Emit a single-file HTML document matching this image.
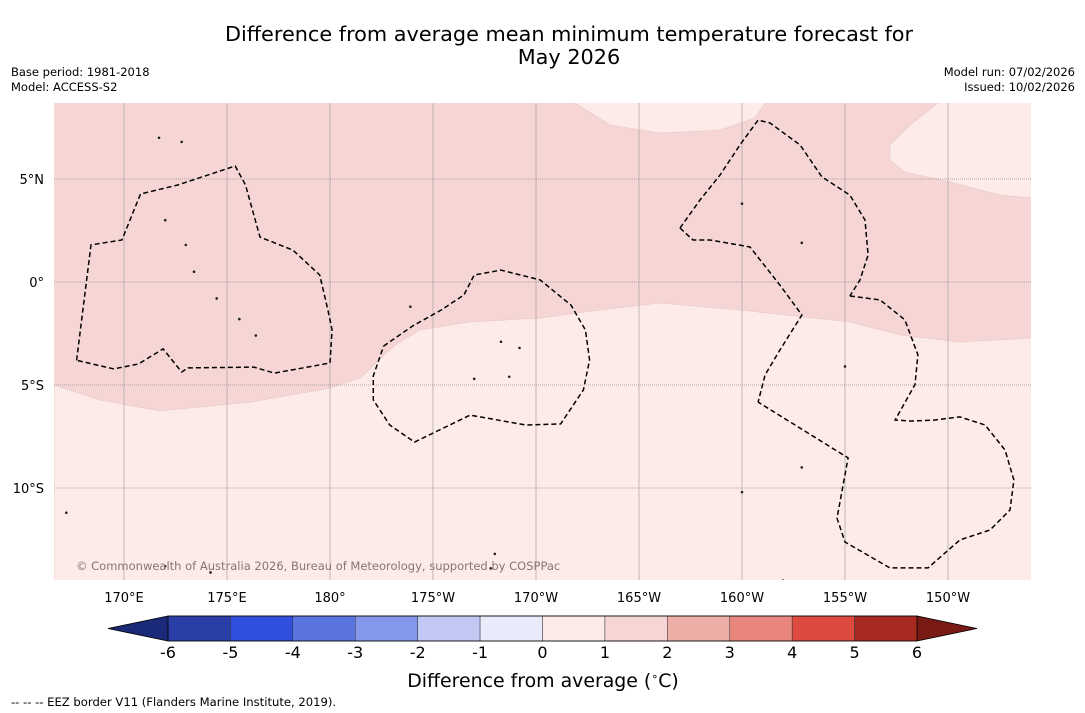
<!DOCTYPE html>
<html><head><meta charset="utf-8"><style>
body{margin:0;background:#fff;font-family:"Liberation Sans","DejaVu Sans",sans-serif}
svg{display:block}
</style></head><body>
<svg id="c" width="1085" height="713" viewBox="0 0 1085 713" font-family="'DejaVu Sans','Liberation Sans',sans-serif">
<rect width="1085" height="713" fill="#fff"/>
<text x="569" y="41" text-anchor="middle" font-size="20.8" fill="#000">Difference from average mean minimum temperature forecast for</text>
<text x="569" y="64" text-anchor="middle" font-size="20.8" fill="#000">May 2026</text>
<text x="11" y="76" font-size="11.5">Base period: 1981-2018</text>
<text x="11" y="91" font-size="11.5">Model: ACCESS-S2</text>
<text x="1075" y="76" font-size="11.5" text-anchor="end">Model run: 07/02/2026</text>
<text x="1075" y="91" font-size="11.5" text-anchor="end">Issued: 10/02/2026</text>
<g id="map"></g>
<g id="axes"></g>
<g id="cbar"></g>
<text x="543" y="687" text-anchor="middle" font-size="18.9">Difference from average (<tspan font-size="11" dy="-7">∘</tspan><tspan dy="7">C)</tspan></text>
<text x="11" y="706" font-size="11.6">--  --  -- EEZ border V11 (Flanders Marine Institute, 2019).</text>
</svg>
<script>
const NS="http://www.w3.org/2000/svg";
const levels=[-6,-5,-4,-3,-2,-1,0,1,2,3,4,5,6];
const levelColors=["#2a3ea8","#2f4fdc","#5a74e0","#8497ea","#c0c8f3","#e8ebfa","#fcebe8","#f5d6d5","#eeaea8","#e8867d","#dc4a40","#a82a22"];
const lowTipColor="#1b2a78", highTipColor="#7a1a14";
const lonTicks=[170,175,180,185,190,195,200,205,210];
const lonLabels=["170°E","175°E","180°","175°W","170°W","165°W","160°W","155°W","150°W"];
const latTicks=[5,0,-5,-10];
const latLabels=["5°N","0°","5°S","10°S"];
// contours [lon(0-360), lat]
const contourMain=[[166.6,-5],[168.83,-5.73],[171.75,-6.26],[176.12,-5.83],[180,-5.15],[181.46,-4.66],[183.16,-3.06],[184.37,-2.33],[186.8,-1.94],[190.19,-1.75],[193.11,-1.36],[195.99,-1.02],[199.87,-1.36],[205.24,-1.94],[207.67,-2.57],[210.58,-2.91],[214.03,-2.72],[215,-2.72]];
const contourTop=[[191.89,8.69],[193.59,7.62],[196.02,7.23],[198.93,7.38],[200.63,7.96],[201.12,8.69],[201.3,9],[191.5,9]];
const contourTopRight=[[209.51,8.69],[208.16,7.62],[207.18,6.65],[207.18,5.92],[207.91,5.34],[210.10,4.85],[212.52,4.22],[214.03,4.08],[215,4.08],[215,9],[209.5,9]];
const eezA=[[167.7,-3.80],[168.4,1.80],[169.9,2.04],[170.8,4.27],[172.6,4.71],[175.4,5.63],[175.9,4.71],[176.6,2.18],[178.2,1.55],[179.5,0.34],[179.9,-1.36],[180.1,-2.33],[180.0,-3.93],[177.3,-4.42],[176.3,-4.13],[173.1,-4.17],[172.8,-4.37],[171.9,-3.25],[170.7,-3.98],[169.5,-4.22],[167.7,-3.80]];
const eezB=[[182.6,-3.11],[184.0,-2.14],[185.4,-1.36],[186.5,-0.63],[187.0,0.34],[188.3,0.58],[190.2,0.10],[191.7,-1.12],[192.4,-2.33],[192.6,-3.79],[192.3,-5.24],[191.2,-6.89],[189.5,-6.94],[186.8,-6.46],[184.1,-7.77],[182.9,-6.94],[182.1,-5.73],[182.1,-4.56],[182.6,-3.11]];
const eezC=[[196.99,2.62],[197.96,3.98],[198.93,5.19],[199.90,6.65],[200.78,7.86],[201.36,7.72],[202.82,6.65],[203.88,5.10],[205.24,4.22],[205.97,3.01],[206.12,1.31],[205.73,0.10],[205.24,-0.68]];
const eezD=[[196.99,2.62],[197.62,2.04],[198.45,2.04],[200.39,1.70],[201.84,-0.15],[202.91,-1.60],[201.84,-3.30],[201.12,-4.51],[200.78,-5.83]];
const eezE=[[205.24,-0.68],[206.70,-0.87],[207.91,-1.84],[208.54,-3.54],[208.40,-4.98],[207.43,-6.70],[208.16,-6.75],[209.37,-6.70],[210.58,-6.55],[211.80,-6.94],[212.77,-8.16],[213.20,-9.61],[213.01,-11.07],[212.04,-12.04],[210.58,-12.52],[209.03,-13.88],[207.18,-13.88],[205.0,-12.62],[204.61,-11.46],[205.15,-8.54],[200.78,-5.83]];
const islands=[[171.7,7.0],[172.8,6.8],[172.0,3.0],[173.0,1.8],[173.4,0.5],[174.5,-0.8],[175.6,-1.8],[176.4,-2.6],[183.9,-1.2],[188.3,-2.9],[189.2,-3.2],[188.7,-4.6],[187.0,-4.7],[200.0,3.8],[202.9,1.9],[205.0,-4.1],[200.0,-10.2],[202.9,-9.0],[167.2,-11.2],[172.0,-13.8],[174.2,-14.1],[187.8,-13.9],[202.0,-14.5],[214.6,-14.5],[188.0,-13.2]];

const X0=54,X1=1031,Y0=103,Y1=580;
const xS=lon=>124+(lon-170)*20.6;
const yS=lat=>282-lat*20.6;
const pts=a=>a.map(p=>xS(p[0]).toFixed(1)+","+yS(p[1]).toFixed(1)).join(" ");
function el(t,a,parent){const e=document.createElementNS(NS,t);for(const k in a)e.setAttribute(k,a[k]);parent.appendChild(e);return e;}
const map=document.getElementById("map");
const defs=el("defs",{},map);
const cp=el("clipPath",{id:"mc"},defs);
el("rect",{x:X0,y:Y0,width:X1-X0,height:Y1-Y0},cp);
const g=el("g",{"clip-path":"url(#mc)"},map);
let r=el("rect",{x:X0,y:Y0,width:X1-X0,height:Y1-Y0,fill:levelColors[7]},g);


const lowPoly=contourMain.concat([[215,-15],[166.6,-15]]);
let p=el("polygon",{points:pts(lowPoly),fill:levelColors[6],stroke:"#e8c8c5","stroke-width":0.6},g);


p=el("polygon",{points:pts(contourTop),fill:levelColors[6],stroke:"#e8c8c5","stroke-width":0.6},g);


p=el("polygon",{points:pts(contourTopRight),fill:levelColors[6],stroke:"#e8c8c5","stroke-width":0.6},g);


lonTicks.forEach(l=>{const x=xS(l);el("line",{x1:x,x2:x,y1:Y0,y2:Y1,stroke:"#999","stroke-width":0.6},g);});
latTicks.forEach(l=>{const y=yS(l);el("line",{x1:X0,x2:X1,y1:y,y2:y,stroke:"#666","stroke-width":0.6,"stroke-dasharray":"1,1"},g);});
[eezA,eezB,eezC,eezD,eezE].forEach(a=>{const q=el("polyline",{points:pts(a),fill:"none",stroke:"#000","stroke-width":1.5,"stroke-dasharray":"5,3"},g);

});
islands.forEach(a=>{const c=el("circle",{cx:xS(a[0]),cy:yS(a[1]),r:1.3,fill:"#222"},g);

});
const cr=el("text",{x:76,y:570,"font-size":11.5,fill:"#857575"},g);cr.textContent="© Commonwealth of Australia 2026, Bureau of Meteorology, supported by COSPPac";


const axes=document.getElementById("axes");
lonTicks.forEach((l,i)=>{const t=el("text",{x:xS(l),y:602,"text-anchor":"middle","font-size":13},axes);t.textContent=lonLabels[i];

});
latTicks.forEach((l,i)=>{const t=el("text",{x:44,y:yS(l)+5,"text-anchor":"end","font-size":13},axes);t.textContent=latLabels[i];

});
const cb=document.getElementById("cbar");
const cbX0=168,cbX1=917,cbY=616,cbH=25;
const cx=v=>cbX0+(v-levels[0])/(levels[levels.length-1]-levels[0])*(cbX1-cbX0);
let tip=el("polygon",{points:`${cbX0},${cbY} ${cbX0},${cbY+cbH} 108,${cbY+cbH/2}`,fill:lowTipColor,stroke:"#000","stroke-width":0.8},cb);


tip=el("polygon",{points:`${cbX1},${cbY} ${cbX1},${cbY+cbH} 977,${cbY+cbH/2}`,fill:highTipColor,stroke:"#000","stroke-width":0.8},cb);


levelColors.forEach((c,i)=>{const x=cx(levels[i]),w=cx(levels[i+1])-x;
const s=el("rect",{x:x,y:cbY,width:w,height:cbH,fill:c,stroke:"#333","stroke-width":0.5},cb);

});
el("rect",{x:cbX0,y:cbY,width:cbX1-cbX0,height:cbH,fill:"none",stroke:"#000","stroke-width":0.8},cb);
levels.forEach(v=>{const t=el("text",{x:cx(v),y:658,"text-anchor":"middle","font-size":16},cb);t.textContent=String(v);

});
</script>
</body></html>
